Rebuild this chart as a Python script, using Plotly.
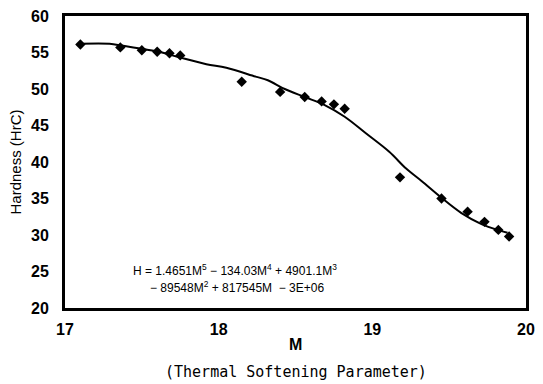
import plotly.graph_objects as go

# Measured data points (M, Hardness)
m_pts = [17.10, 17.36, 17.50, 17.60, 17.68, 17.75, 18.15, 18.40, 18.56, 18.67,
         18.75, 18.82, 19.18, 19.45, 19.62, 19.73, 19.82, 19.89]
h_pts = [56.1, 55.7, 55.3, 55.1, 54.9, 54.6, 51.0, 49.6, 48.9, 48.3,
         47.9, 47.3, 37.9, 35.0, 33.2, 31.8, 30.7, 29.8]

# Trend-line values
m_fit = [17.10, 17.29, 17.37, 17.50, 17.61, 17.75, 17.92, 18.05, 18.24, 18.32,
         18.43, 18.56, 18.69, 18.82, 18.96, 19.11, 19.22, 19.32, 19.45, 19.58,
         19.71, 19.83, 19.88]
h_fit = [56.2, 56.2, 55.95, 55.5, 55.1, 54.3, 53.4, 52.9, 51.7, 51.2,
         50.0, 48.9, 47.8, 46.2, 43.9, 41.4, 39.1, 37.4, 35.1, 33.0,
         31.5, 30.6, 30.3]

x_ticks = [17, 18, 19, 20]
y_ticks = [20, 25, 30, 35, 40, 45, 50, 55, 60]

fig = go.Figure()
fig.add_trace(go.Scatter(x=m_fit, y=h_fit, mode="lines",
                         line=dict(color="black", width=2, shape="spline"),
                         showlegend=False, hoverinfo="skip"))
fig.add_trace(go.Scatter(x=m_pts, y=h_pts, mode="markers",
                         marker=dict(symbol="diamond", size=8, color="black"),
                         showlegend=False))

tick_font = dict(family="Liberation Sans, Arial", size=16, color="black", weight="bold")

fig.update_layout(
    width=543, height=384,
    margin=dict(l=65, r=8, t=13, b=76),
    plot_bgcolor="white", paper_bgcolor="white",
    xaxis=dict(range=[17, 20], tickvals=x_ticks,
               showgrid=False, zeroline=False, showline=True, mirror=True,
               linecolor="black", linewidth=3, ticks="", tickfont=tick_font,
               ticklabelstandoff=5),
    yaxis=dict(range=[20, 60], tickvals=y_ticks,
               showgrid=False, zeroline=False, showline=True, mirror=True,
               linecolor="black", linewidth=3, ticks="", tickfont=tick_font,
               ticklabelstandoff=10,
               title=dict(text="Hardness (HrC)",
                          font=dict(family="Liberation Sans, Arial", size=15, color="black"),
                          standoff=6)),
)

fig.add_annotation(x=0.5, y=-0.125, xref="paper", yref="paper",
                   xanchor="center", yanchor="middle",
                   text="M", showarrow=False,
                   font=dict(family="Liberation Sans, Arial", size=16, color="black",
                             weight="bold"))
fig.add_annotation(x=0.5, y=-0.218, xref="paper", yref="paper",
                   xanchor="center", yanchor="middle",
                   text="(Thermal Softening Parameter)", showarrow=False,
                   font=dict(family="DejaVu Sans Mono", size=15, color="black"))

fig.add_annotation(x=0.369, y=0.129, xref="paper", yref="paper",
                   xanchor="center", yanchor="middle",
                   text="H = 1.4651M<sup>5</sup> − 134.03M<sup>4</sup> + 4901.1M<sup>3</sup>",
                   showarrow=False,
                   font=dict(family="Liberation Sans, Arial", size=12, color="black"))
fig.add_annotation(x=0.373, y=0.071, xref="paper", yref="paper",
                   xanchor="center", yanchor="middle",
                   text="− 89548M<sup>2</sup> + 817545M  − 3E+06",
                   showarrow=False,
                   font=dict(family="Liberation Sans, Arial", size=12, color="black"))

fig.write_html("out.html")
